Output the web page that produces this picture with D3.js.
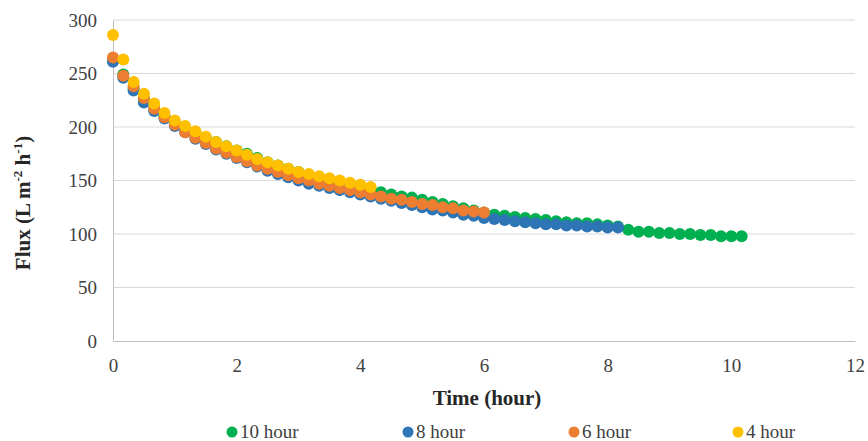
<!DOCTYPE html>
<html><head><meta charset="utf-8">
<script src="https://cdn.jsdelivr.net/npm/d3@7"></script>
<style>body{margin:0;background:#fff;} svg{display:block;} text{font-family:'Liberation Serif','Times New Roman',serif;}</style>
</head><body>
<svg id="c" width="868" height="441"></svg>
<script>
const step = 1/6;
const seriesNames = ["10 hour", "8 hour", "6 hour", "4 hour"];
const seriesColors = ["#00b050", "#2e75b6", "#ed7d31", "#ffc000"];
const flux10 = [262,249,236,226,217,210,204,199,195,190,186,182,178,175,171,167,164,161,158,155,153,150,148,146,144,142,139,137,135,134,132,130,128,126,124,122,120,118,117,116,115,114,113,112,111,110,110,109,108,107,104,102,102,101,101,100,100,99,99,98,98,98];
const flux8 = [261,246,234,223,215,208,201,195,189,184,179,175,171,167,163,159,156,153,150,147,145,143,141,139,137,135,133,131,129,127,125,123,122,120,118,117,115,114,113,112,111,110,109,109,108,108,107,107,106,106];
const flux6 = [265,248,238,227,217,209,202,195,190,185,180,176,172,168,164,161,158,155,152,150,147,145,143,141,139,137,135,133,132,130,128,127,125,124,122,121,120];
const flux4 = [286,263,242,231,222,213,206,201,196,191,186,182,178,174,170,167,164,161,158,156,154,152,150,148,146,144];
const allFlux = [flux10, flux8, flux6, flux4];
const xTicks = [0,2,4,6,8,10,12];
const yTicks = [0,50,100,150,200,250,300];

const svg = d3.select("#c");
const x = d3.scaleLinear().domain([0,12]).range([113,855]);
const y = d3.scaleLinear().domain([0,300]).range([341,20]);
const font = "'Liberation Serif','Times New Roman',serif";

// gridlines
svg.append("g").selectAll("line").data(yTicks.filter(d=>d>0)).join("line")
  .attr("x1",x(0)).attr("x2",x(12)).attr("y1",d=>y(d)).attr("y2",d=>y(d))
  .attr("stroke","#d9d9d9").attr("stroke-width",1);

// axes
const xAxis = svg.append("g").attr("transform",`translate(0,${y(0)})`)
  .call(d3.axisBottom(x).tickValues(xTicks).tickSize(0).tickPadding(18).tickFormat(d3.format("d")));
const yAxis = svg.append("g").attr("transform",`translate(${x(0)},0)`)
  .call(d3.axisLeft(y).tickValues(yTicks).tickSize(0).tickPadding(16).tickFormat(d3.format("d")));
[xAxis,yAxis].forEach(a=>{
  a.attr("font-family",null);
  a.select(".domain").attr("stroke","#bfbfbf");
  a.selectAll("text").style("font-family",font).style("font-size","19px").attr("fill","#404040");
});

// points
allFlux.forEach((arr,i)=>{
  svg.append("g").selectAll("circle").data(arr).join("circle")
    .attr("cx",(d,j)=>x(j*step)).attr("cy",d=>y(d)).attr("r",6)
    .attr("fill",seriesColors[i]);
});

// axis titles
svg.append("text").attr("x",487).attr("y",405).attr("text-anchor","middle")
  .style("font-family",font).style("font-size","21px").attr("font-weight","bold").attr("fill","#262626")
  .text("Time (hour)");
const yt = svg.append("text").attr("transform","translate(30,203) rotate(-90)").attr("text-anchor","middle")
  .style("font-family",font).style("font-size","21px").attr("font-weight","bold").attr("fill","#262626");
yt.append("tspan").text("Flux (L m");
yt.append("tspan").attr("dy",-8).style("font-size","13px").text("-2");
yt.append("tspan").attr("dy",8).text(" h");
yt.append("tspan").attr("dy",-8).style("font-size","13px").text("-1");
yt.append("tspan").attr("dy",8).text(")");

// legend
const legX = [232,408,574,738];
const leg = svg.append("g").selectAll("g").data(seriesNames).join("g")
  .attr("transform",(d,i)=>`translate(${legX[i]},432)`);
leg.append("circle").attr("r",5.5).attr("fill",(d,i)=>seriesColors[i]);
leg.append("text").attr("x",8).attr("y",6).style("font-family",font).style("font-size","19px")
  .attr("fill","#404040").text(d=>d);
</script>
</body></html>
